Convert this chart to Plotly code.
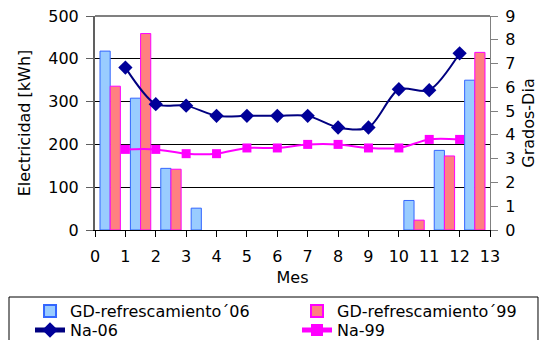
import numpy as np
import plotly.graph_objects as go

# Monthly slots on the 0-13 month axis (bars sit in the middle of each slot)
slots = np.arange(13)
gd_06 = [418, 308, 144, 51, 0, 0, 0, 0, 0, 0, 69, 186, 350]
gd_99 = [336, 459, 142, 0, 0, 0, 0, 0, 0, 0, 23, 173, 415]

# Degree-day lines, months 1..12
months = list(range(1, 13))
na_06 = [6.83, 5.29, 5.23, 4.80, 4.80, 4.80, 4.80, 4.31, 4.31, 5.92, 5.88, 7.43]
na_99 = [3.39, 3.39, 3.21, 3.21, 3.45, 3.45, 3.60, 3.60, 3.45, 3.45, 3.81, 3.81]

FONT = "DejaVu Sans"
bar_x = slots + 0.5


def no_zero(vals):
    # empty slots get no bar at all (avoids a flat outline at zero)
    return [v if v else None for v in vals]


fig = go.Figure()
fig.add_trace(go.Bar(
    x=bar_x, y=no_zero(gd_06), name="GD-refrescamiento´06", legend="legend",
    marker=dict(color="#99ccff", line=dict(color="#3366ff", width=1)),
))
fig.add_trace(go.Bar(
    x=bar_x, y=no_zero(gd_99), name="GD-refrescamiento´99", legend="legend2",
    marker=dict(color="#ff8080", line=dict(color="#ff00ff", width=1)),
))
fig.add_trace(go.Scatter(
    x=months, y=na_06, name="Na-06", yaxis="y2", mode="lines+markers",
    legend="legend3",
    line=dict(color="#000080", width=2, shape="spline", smoothing=0.8),
    marker=dict(symbol="diamond", size=11, color="#000099"),
))
fig.add_trace(go.Scatter(
    x=months, y=na_99, name="Na-99", yaxis="y2", mode="lines+markers",
    legend="legend4",
    line=dict(color="#ff00ff", width=2, shape="spline", smoothing=0.8),
    marker=dict(symbol="square", size=9, color="#ff00ff"),
))

tickfont = dict(family=FONT, size=16, color="black")
legend_common = dict(
    orientation="v", xanchor="left", yanchor="top",
    bgcolor="rgba(0,0,0,0)", borderwidth=0,
    font=dict(family=FONT, size=16, color="black"),
    traceorder="normal", itemsizing="constant", tracegroupgap=0,
)

# legend grid: two columns, two rows
col_x = [-0.1645, 0.5114]
row_y = [-0.2995, -0.3883]

fig.update_layout(
    width=542, height=340,
    margin=dict(l=95, r=52, t=16, b=110, autoexpand=False),
    paper_bgcolor="white", plot_bgcolor="white",
    font=dict(family=FONT, size=16, color="black"),
    barmode="group", bargap=0.33, bargroupgap=0,
    showlegend=True,
    legend=dict(x=col_x[0], y=row_y[0], **legend_common),
    legend2=dict(x=col_x[1], y=row_y[0], **legend_common),
    legend3=dict(x=col_x[0], y=row_y[1], **legend_common),
    legend4=dict(x=col_x[1], y=row_y[1], **legend_common),
    xaxis=dict(
        range=[0, 13], tick0=0, dtick=1, ticks="outside", ticklen=6,
        tickcolor="black", showline=True, linecolor="black", linewidth=1,
        showgrid=False, zeroline=False, tickfont=tickfont,
        ticklabelstandoff=6, automargin=False,
        title=dict(text="Mes", standoff=6, font=dict(family=FONT, size=16)),
    ),
    yaxis=dict(
        range=[0, 500], tick0=0, dtick=100, ticks="outside", ticklen=7,
        tickcolor="#606060", showline=True, linecolor="#606060", linewidth=2,
        showgrid=True, gridcolor="black", gridwidth=1, zeroline=False,
        tickfont=tickfont, ticklabelstandoff=4, automargin=False,
        title=dict(text="Electricidad [kWh]", standoff=14,
                   font=dict(family=FONT, size=16)),
    ),
    yaxis2=dict(
        range=[0, 9], tick0=0, dtick=1, overlaying="y", side="right",
        ticks="outside", ticklen=7, tickcolor="#808080",
        showline=True, linecolor="#808080", linewidth=1,
        showgrid=False, zeroline=False, tickfont=tickfont,
        ticklabelstandoff=4, automargin=False,
        title=dict(text="Grados-Dia", standoff=8,
                   font=dict(family=FONT, size=16)),
    ),
    shapes=[
        # grey top edge of the plot area
        dict(type="line", xref="paper", yref="paper", x0=0, x1=1,
             y0=1, y1=1, line=dict(color="#808080", width=2), layer="above"),
        # frame around both legend columns
        dict(type="rect", xref="paper", yref="paper",
             x0=-0.2177, x1=1.1215, y0=-0.3131, y1=-0.56,
             line=dict(color="black", width=1), fillcolor="rgba(0,0,0,0)",
             layer="above"),
    ],
)

fig.write_html("out.html")
